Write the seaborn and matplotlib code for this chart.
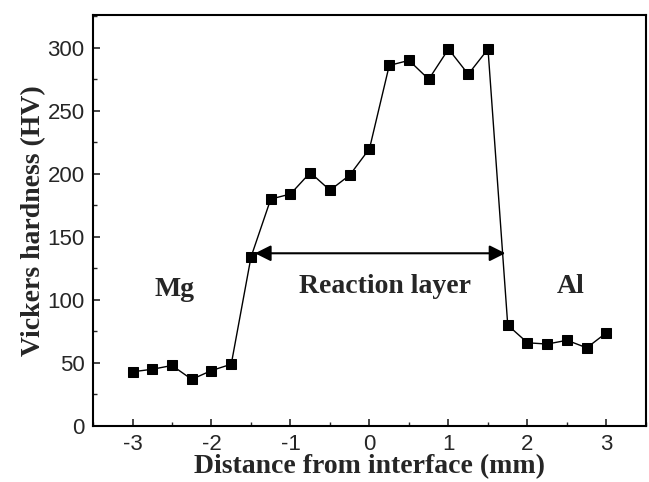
import numpy as np
import pandas as pd
import matplotlib
matplotlib.use("Agg")
import matplotlib.pyplot as plt
import seaborn as sns
from matplotlib.ticker import MultipleLocator

distance = [-3.0, -2.75, -2.5, -2.25, -2.0, -1.75, -1.5, -1.25, -1.0, -0.75, -0.5, -0.25,
            0.0, 0.25, 0.5, 0.75, 1.0, 1.25, 1.5, 1.75, 2.0, 2.25, 2.5, 2.75, 3.0]
hardness = [43, 45, 48, 37, 44, 49, 134, 180, 184, 201, 187, 199,
            220, 286, 290, 275, 299, 279, 299, 80, 66, 65, 68, 62, 74]
xticks = [-3, -2, -1, 0, 1, 2, 3]
yticks = [0, 50, 100, 150, 200, 250, 300]
region_labels = ["Mg", "Reaction layer", "Al"]
region_x = [-2.47, 0.2, 2.55]
region_y = [108, 111, 111]
layer_start, layer_end, layer_level = -1.45, 1.72, 137

sns.set_style("ticks")
plt.rcParams['font.family'] = ['Liberation Sans', 'DejaVu Sans']

df = pd.DataFrame({"Distance": distance, "Hardness": hardness})

fig = plt.figure(figsize=(6.49, 4.82), dpi=100)
ax = fig.add_axes([93/649, 1-426/482, (646-93)/649, (426-15)/482])

sns.lineplot(data=df, x="Distance", y="Hardness", ax=ax, color="black",
             linewidth=1.0, marker="s", markersize=7.5, markeredgecolor="black",
             markerfacecolor="black", errorbar=None)

ax.set_xlim(-3.5, 3.5)
ax.set_ylim(0, 326)
ax.set_xticks(xticks)
ax.set_yticks(yticks)
ax.set_xticklabels([str(t) for t in xticks])
ax.set_yticklabels([str(t) for t in yticks])
ax.xaxis.set_minor_locator(MultipleLocator(0.5))
ax.yaxis.set_minor_locator(MultipleLocator(25))
ax.tick_params(which="major", direction="in", length=5, width=1.2, labelsize=16,
               top=False, right=False, pad=6)
ax.tick_params(which="minor", direction="in", length=3, width=1.0,
               top=False, right=False)
for s in ax.spines.values():
    s.set_visible(True)
    s.set_linewidth(1.5)
    s.set_color("black")

serif = dict(family=["Liberation Serif", "DejaVu Serif"], weight="bold")
ax.set_xlabel("Distance from interface (mm)", fontsize=20, labelpad=-1, **serif)
ax.set_ylabel("Vickers hardness (HV)", fontsize=20, labelpad=1, **serif)

for lab, xx, yy in zip(region_labels, region_x, region_y):
    ax.text(xx, yy, lab, ha="center", va="center", fontsize=20, **serif)

ax.annotate("", xy=(layer_start, layer_level), xytext=(layer_end, layer_level),
            arrowprops=dict(arrowstyle="<|-|>", color="black", lw=1.5,
                            mutation_scale=24, shrinkA=0, shrinkB=0))

fig.savefig("out.png", dpi=100)
